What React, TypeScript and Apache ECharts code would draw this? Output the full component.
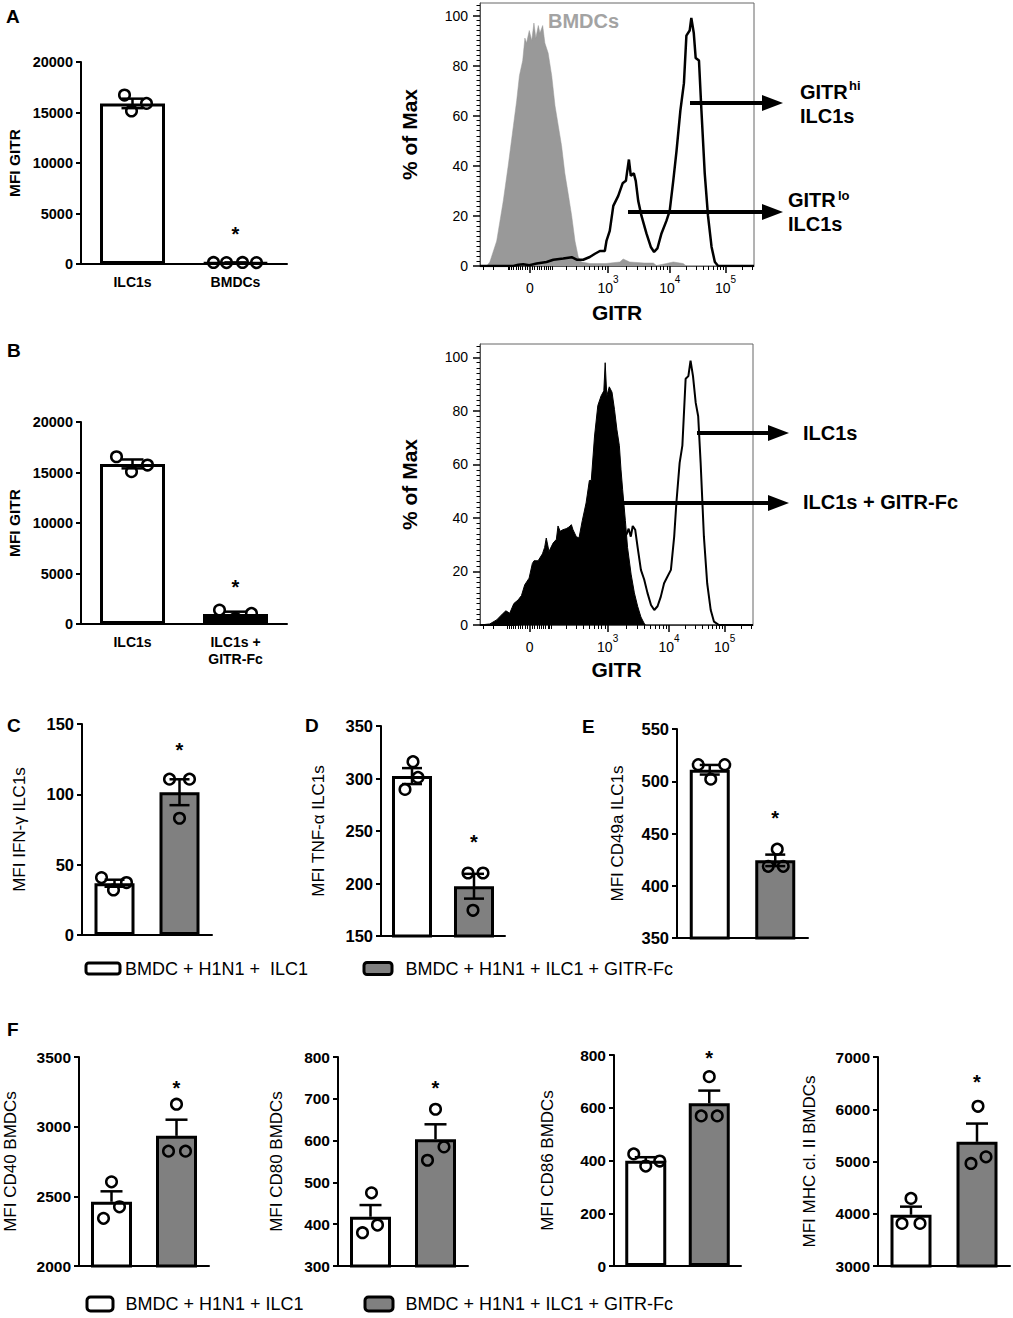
import React, { useEffect, useRef } from "react";
import * as echarts from "echarts";

const FONT = "'Liberation Sans', Arial, Helvetica, sans-serif";

// ---------------- Panel A (bar) ----------------
const catA = ["ILC1s", "BMDCs"];
const meanA = [15900, 130];
const semA = [470, 15];
const ptsA = [[16730, 15150, 15900], [150, 140, 150, 140]];
const starA = 3440;

// ---------------- Panel B (bar) ----------------
const catB = ["ILC1s", "ILC1s +\nGITR-Fc"];
const meanB = [15850, 990];
const semB = [440, 230];
const ptsB = [[16560, 15080, 15740], [1380, 560, 1050]];
const starB = 4160;

// ---------------- Panels C-E ----------------
const legendCE = ["BMDC + H1N1 +  ILC1", "BMDC + H1N1 + ILC1 + GITR-Fc"];
const meanC = [36.8, 101.5];
const semC = [2.5, 9.2];
const ptsC = [[40.8, 32, 37.3], [110.8, 110.8, 83]];
const starC = 135;

const meanD = [302.3, 197.4];
const semD = [7.6, 11.8];
const ptsD = [[316, 301, 289.6], [210, 210, 174.5]];
const starD = 244;

const meanE = [511, 424.3];
const semE = [4.6, 5.5];
const ptsE = [[515.9, 515.9, 502], [435, 418.6, 418.6]];
const starE = 469.6;

// ---------------- Panel F ----------------
const legendF = ["BMDC + H1N1 + ILC1", "BMDC + H1N1 + ILC1 + GITR-Fc"];
const meanF1 = [2461, 2934];
const semF1 = [75, 116];
const ptsF1 = [[2604, 2425, 2342], [3161, 2824, 2824]];
const starF1 = 3313;

const meanF2 = [417.8, 603];
const semF2 = [28, 36];
const ptsF2 = [[475, 398, 379.6], [675, 585, 553]];
const starF2 = 738;

const meanF3 = [399.5, 617];
const semF3 = [13, 48];
const ptsF3 = [[425, 398, 379], [718, 569, 569]];
const starF3 = 809;

const meanF4 = [3981, 5376];
const semF4 = [155, 350];
const ptsF4 = [[4293, 3815, 3815], [6057, 5089, 4962]];
const starF4 = 6618;

// ---------------- Histograms (x = display channel 0..1001, y = % of max) ----------------
const histA_BMDC: number[][] = [
  [0, 0], [24, 0], [36, 1.6], [61, 10], [85, 26], [103, 40], [122, 56], [134, 66], [144, 76], [156, 82],
  [164, 91], [170, 89], [180, 94], [189, 90], [197, 97], [204, 91], [213, 96], [219, 93], [229, 96],
  [237, 89], [249, 85], [262, 76], [274, 64], [286, 56], [298, 48], [310, 37], [322, 29], [335, 20],
  [347, 10], [359, 3.6], [371, 1.6], [401, 1], [460, 1], [511, 1.6], [523, 2.8], [547, 1.6], [600, 1.2],
  [633, 1.2], [645, 0.2], [681, 1], [706, 1.6], [742, 1], [754, 0], [1001, 0],
];
const histA_ILC1: number[][] = [
  [0, 0], [122, 0], [140, 0.5], [158, 0.7], [180, 0.3], [207, 1], [243, 1.6], [268, 2.5], [304, 3],
  [335, 3.5], [353, 2.5], [377, 2.5], [401, 3.6], [420, 4.9], [438, 6], [456, 6], [462, 10], [474, 14],
  [487, 24], [505, 28], [521, 33], [533, 34], [538, 38], [544, 42.5], [551, 36], [562, 37], [569, 34],
  [578, 26], [590, 20], [608, 13], [624, 7.6], [636, 5.6], [648, 7], [663, 13], [681, 18], [693, 22],
  [706, 34], [718, 46], [732, 62], [745, 73], [754, 92], [766, 94], [772, 99], [781, 93], [788, 83],
  [800, 82], [809, 62], [821, 37], [833, 20], [846, 7.6], [858, 1.6], [870, 0], [1001, 0],
];
const histB_ILC1: number[][] = [
  [0, 0], [122, 0], [207, 1], [304, 3], [401, 3.6], [456, 6], [474, 14], [505, 28], [529, 33], [538, 34],
  [545, 36], [553, 33], [560, 37], [569, 35.6], [578, 29], [590, 20.6], [602, 17], [614, 12], [627, 7.5],
  [639, 5.6], [651, 7], [663, 10.6], [675, 15.6], [687, 18], [700, 20.6], [712, 33], [720, 45.6],
  [732, 60.6], [742, 67], [754, 92], [764, 93], [772, 98.75], [781, 93], [791, 83], [800, 78], [809, 60.6],
  [821, 33], [833, 15.6], [846, 5.6], [858, 1.25], [876, 0], [1001, 0],
];
const histB_Fc: number[][] = [
  [0, 0], [36, 0.4], [61, 1.9], [85, 4.4], [95, 5.3], [109, 4.4], [124, 8], [140, 9.4], [152, 11],
  [164, 15], [180, 17.5], [192, 23], [198, 24], [213, 24], [229, 26.6], [237, 29], [243, 32.5],
  [253, 27.5], [268, 30.6], [280, 32], [286, 37], [294, 35], [304, 35.6], [316, 36], [326, 36.6],
  [335, 37.5], [341, 35.6], [353, 33], [363, 32.5], [375, 39], [389, 45.6], [401, 54], [408, 54],
  [420, 70.6], [432, 82], [444, 85.6], [454, 87.5], [459, 98], [465, 85.6], [474, 89], [484, 87],
  [493, 80.6], [502, 73], [511, 67], [517, 58], [523, 50.6], [533, 39], [541, 29], [554, 19], [566, 12],
  [578, 7], [590, 3], [602, 0.6], [608, 0], [1001, 0],
];

// histogram axis ticks
const histMajorGITR = [0, 1e3, 1e4, 1e5];
const histMajorCh = [182, 468, 693, 897];
const histXTickLabels = ["{b|0}", "{b|10}{s|3}", "{b|10}{s|4}", "{b|10}{s|5}"];
const histYTicks = [0, 20, 40, 60, 80, 100];

// ---------------- layout helpers ----------------
function gitrToCh(v: number): number {
  const c = 110;
  const a = Math.abs(v);
  if (a <= 1000) {
    const r = Math.asinh(a / c) / Math.asinh(1000 / c);
    return histMajorCh[0] + Math.sign(v) * r * (histMajorCh[1] - histMajorCh[0]);
  }
  const lg = Math.log10(a);
  if (lg <= 4) return histMajorCh[1] + (lg - 3) * (histMajorCh[2] - histMajorCh[1]);
  return histMajorCh[2] + (lg - 4) * (histMajorCh[3] - histMajorCh[2]);
}
function minorTicks(): number[] {
  const out: number[] = [];
  for (const d of [10, 100, 1000, 10000, 100000]) {
    for (let m = 1; m <= 9; m++) {
      const v = m * d;
      if (histMajorGITR.indexOf(v) >= 0) continue;
      for (const s of [1, -1]) {
        const ch = gitrToCh(s * v);
        if (ch >= 0 && ch <= 1001) out.push(ch);
      }
    }
  }
  return out;
}

const jitA = [[-8, -1, 14], [-22, -9, 7, 21]];
const jitB = [[-16, -1, 15], [-16, 0, 16]];
const jitC = [[-13, -1, 12], [-10, 10, 0]];
const jitD = [[1, 6, -7], [-6, 9, -1]];
const jitE = [[-11.5, 15, 1], [2, -7, 8]];
const jitF1 = [[0, 8, -8], [0, -8, 9]];
const jitF2 = [[1, 7, -8], [0, 8.5, -8]];
const jitF3 = [[-12, 14, 0], [0, -8, 8]];
const jitF4 = [[0, -9, 9], [1, 9, -6]];

type BarPanel = {
  grid: number[]; cats: string[]; means: number[]; sems: number[]; pts: number[][]; jit: number[][];
  star: number; y: number[]; yName: string; nameGap: number; nameSize: number; nameWeight: string;
  tickSize: number; colors: string[]; names: string[]; barWidth: number; capHalf: number; both: boolean;
  xLabels: boolean;
};

const barPanels: BarPanel[] = [
  { grid: [81, 62, 206, 202], cats: catA, means: meanA, sems: semA, pts: ptsA, jit: jitA, star: starA,
    y: [0, 20000, 5000], yName: "MFI GITR", nameGap: 59, nameSize: 15.5, nameWeight: "bold", tickSize: 14.5,
    colors: ["#ffffff", "#ffffff"], names: ["A ILC1s", "A BMDCs"], barWidth: 65, capHalf: 11, both: true, xLabels: true },
  { grid: [81, 422, 206, 202], cats: catB, means: meanB, sems: semB, pts: ptsB, jit: jitB, star: starB,
    y: [0, 20000, 5000], yName: "MFI GITR", nameGap: 59, nameSize: 15.5, nameWeight: "bold", tickSize: 14.5,
    colors: ["#ffffff", "#000000"], names: ["B ILC1s", "B ILC1s + GITR-Fc"], barWidth: 65, capHalf: 11, both: true, xLabels: true },
  { grid: [82, 724, 130, 211], cats: legendCE, means: meanC, sems: semC, pts: ptsC, jit: jitC, star: starC,
    y: [0, 150, 50], yName: "MFI IFN-γ ILC1s", nameGap: 54, nameSize: 17, nameWeight: "normal", tickSize: 16.5,
    colors: ["#ffffff", "#808080"], names: legendCE, barWidth: 40, capHalf: 10, both: true, xLabels: false },
  { grid: [381, 726, 124, 210], cats: legendCE, means: meanD, sems: semD, pts: ptsD, jit: jitD, star: starD,
    y: [150, 350, 50], yName: "MFI TNF-α ILC1s", nameGap: 54, nameSize: 17, nameWeight: "normal", tickSize: 16.5,
    colors: ["#ffffff", "#808080"], names: legendCE, barWidth: 40, capHalf: 10, both: true, xLabels: false },
  { grid: [677, 729, 131, 209], cats: legendCE, means: meanE, sems: semE, pts: ptsE, jit: jitE, star: starE,
    y: [350, 550, 50], yName: "MFI CD49a ILC1s", nameGap: 51, nameSize: 17, nameWeight: "normal", tickSize: 16.5,
    colors: ["#ffffff", "#808080"], names: legendCE, barWidth: 40, capHalf: 10, both: true, xLabels: false },
  { grid: [79, 1057, 130, 209], cats: legendF, means: meanF1, sems: semF1, pts: ptsF1, jit: jitF1, star: starF1,
    y: [2000, 3500, 500], yName: "MFI CD40 BMDCs", nameGap: 60, nameSize: 17, nameWeight: "normal", tickSize: 15.5,
    colors: ["#ffffff", "#808080"], names: legendF, barWidth: 41, capHalf: 11, both: false, xLabels: false },
  { grid: [338, 1057, 130, 209], cats: legendF, means: meanF2, sems: semF2, pts: ptsF2, jit: jitF2, star: starF2,
    y: [300, 800, 100], yName: "MFI CD80 BMDCs", nameGap: 53, nameSize: 17, nameWeight: "normal", tickSize: 15.5,
    colors: ["#ffffff", "#808080"], names: legendF, barWidth: 41, capHalf: 11, both: false, xLabels: false },
  { grid: [614, 1055, 127, 211], cats: legendF, means: meanF3, sems: semF3, pts: ptsF3, jit: jitF3, star: starF3,
    y: [0, 800, 200], yName: "MFI CD86 BMDCs", nameGap: 58, nameSize: 17, nameWeight: "normal", tickSize: 15.5,
    colors: ["#ffffff", "#808080"], names: legendF, barWidth: 41, capHalf: 11, both: false, xLabels: false },
  { grid: [878, 1057, 132, 209], cats: legendF, means: meanF4, sems: semF4, pts: ptsF4, jit: jitF4, star: starF4,
    y: [3000, 7000, 1000], yName: "MFI MHC cl. II BMDCs", nameGap: 60, nameSize: 17, nameWeight: "normal", tickSize: 15.5,
    colors: ["#ffffff", "#808080"], names: legendF, barWidth: 41, capHalf: 11, both: false, xLabels: false },
];

type HistPanel = { grid: number[]; nameGapX: number; layers: { data: number[][]; kind: string }[] };
const histPanels: HistPanel[] = [
  { grid: [480, 3, 274, 263], nameGapX: 36,
    layers: [{ data: histA_BMDC, kind: "grayFill" }, { data: histA_ILC1, kind: "line" }] },
  { grid: [480, 344, 273, 281], nameGapX: 34,
    layers: [{ data: histB_ILC1, kind: "line2" }, { data: histB_Fc, kind: "blackFill" }] },
];

function buildOption() {
  const grid: any[] = [];
  const xAxis: any[] = [];
  const yAxis: any[] = [];
  const series: any[] = [];

  barPanels.forEach((p) => {
    const gi = grid.length;
    grid.push({ left: p.grid[0], top: p.grid[1], width: p.grid[2], height: p.grid[3], containLabel: false });
    const xi = xAxis.length;
    xAxis.push({
      gridIndex: gi, type: "category", data: p.cats,
      axisLine: { lineStyle: { color: "#000", width: 2 } },
      axisTick: { show: false },
      axisLabel: { show: p.xLabels, interval: 0, color: "#000", fontWeight: "bold", fontSize: 14,
        fontFamily: FONT, margin: 9, lineHeight: 17 },
      splitLine: { show: false },
    });
    const yi = yAxis.length;
    yAxis.push({
      gridIndex: gi, type: "value", min: p.y[0], max: p.y[1], interval: p.y[2],
      axisLine: { show: true, lineStyle: { color: "#000", width: 2 } },
      axisTick: { show: true, length: 5, lineStyle: { color: "#000", width: 2 } },
      axisLabel: { color: "#000", fontWeight: "bold", fontSize: p.tickSize, fontFamily: FONT, margin: 8,
        formatter: (v: number) => String(v) },
      splitLine: { show: false },
      name: p.yName, nameLocation: "middle", nameGap: p.nameGap, nameRotate: 90,
      nameTextStyle: { color: "#000", fontSize: p.nameSize, fontWeight: p.nameWeight, fontFamily: FONT },
    });
    p.cats.forEach((_, i) => {
      series.push({
        type: "bar", name: p.names[i], xAxisIndex: xi, yAxisIndex: yi,
        data: p.means.map((m, j) => (j === i ? m : "-")),
        barWidth: p.barWidth, barGap: "-100%",
        itemStyle: { color: p.colors[i], borderColor: "#000", borderWidth: 3 },
        z: 2,
      });
    });
    const both = p.both;
    const capHalf = p.capHalf;
    series.push({
      type: "custom", xAxisIndex: xi, yAxisIndex: yi, z: 3,
      data: p.means.map((m, i) => [i, m, p.sems[i]]),
      renderItem: (_params: any, api: any) => {
        const x = api.value(0);
        const m = api.value(1);
        const s = api.value(2);
        const top = api.coord([x, m + s]);
        const bot = api.coord([x, both ? m - s : m]);
        const st = { stroke: "#000", lineWidth: 2.5 };
        const children: any[] = [
          { type: "line", shape: { x1: top[0], y1: top[1], x2: bot[0], y2: bot[1] }, style: st },
          { type: "line", shape: { x1: top[0] - capHalf, y1: top[1], x2: top[0] + capHalf, y2: top[1] }, style: st },
        ];
        if (both) {
          children.push({ type: "line", shape: { x1: bot[0] - capHalf, y1: bot[1], x2: bot[0] + capHalf, y2: bot[1] }, style: st });
        }
        return { type: "group", children };
      },
    });
    const pd: number[][] = [];
    p.pts.forEach((arr, i) => arr.forEach((v, k) => pd.push([i, v, p.jit[i][k]])));
    series.push({
      type: "custom", xAxisIndex: xi, yAxisIndex: yi, z: 4,
      data: pd,
      renderItem: (_params: any, api: any) => {
        const c = api.coord([api.value(0), api.value(1)]);
        return {
          type: "circle",
          shape: { cx: c[0] + api.value(2), cy: c[1], r: 5.3 },
          style: { fill: "none", stroke: "#000", lineWidth: 2.5 },
        };
      },
    });
    series.push({
      type: "custom", xAxisIndex: xi, yAxisIndex: yi, z: 5,
      data: [[1, p.star]],
      renderItem: (_params: any, api: any) => {
        const c = api.coord([api.value(0), api.value(1)]);
        return {
          type: "text", x: c[0], y: c[1] + 5,
          style: { text: "*", fill: "#000", fontSize: 20, fontWeight: "bold", fontFamily: FONT,
            align: "center", verticalAlign: "middle" },
        };
      },
    });
  });

  const minorCh = minorTicks();
  const yMinor: number[] = [];
  for (let v = 2; v <= 104; v += 2) if (v % 20 !== 0) yMinor.push(v);

  histPanels.forEach((h) => {
    const gi = grid.length;
    grid.push({ left: h.grid[0], top: h.grid[1], width: h.grid[2], height: h.grid[3], show: true,
      borderColor: "#666", borderWidth: 1, backgroundColor: "transparent" });
    const xi = xAxis.length;
    xAxis.push({
      gridIndex: gi, type: "value", min: 0, max: 1001, position: "bottom",
      axisLine: { show: true, lineStyle: { color: "#555", width: 1 } },
      axisTick: { show: true, customValues: histMajorCh, length: 7, lineStyle: { color: "#000", width: 1.5 } },
      axisLabel: {
        show: true, customValues: histMajorCh, margin: 8, color: "#000", fontFamily: FONT,
        formatter: (v: number) => {
          const i = histMajorCh.findIndex((c) => Math.abs(c - v) < 0.5);
          return i >= 0 ? histXTickLabels[i] : "";
        },
        rich: {
          b: { fontSize: 14, fontFamily: FONT, color: "#000", lineHeight: 21, verticalAlign: "bottom" },
          s: { fontSize: 10, fontFamily: FONT, color: "#000", lineHeight: 21, verticalAlign: "top" },
        },
      },
      splitLine: { show: false },
      name: "GITR", nameLocation: "middle", nameGap: h.nameGapX,
      nameTextStyle: { color: "#000", fontSize: 21, fontWeight: "bold", fontFamily: FONT },
    });
    xAxis.push({
      gridIndex: gi, type: "value", min: 0, max: 1001, position: "bottom",
      axisLine: { show: false },
      axisTick: { show: true, customValues: minorCh, length: 4, lineStyle: { color: "#000", width: 1 } },
      axisLabel: { show: false },
      splitLine: { show: false },
    });
    const yi = yAxis.length;
    yAxis.push({
      gridIndex: gi, type: "value", min: 0, max: 105, position: "left",
      axisLine: { show: true, lineStyle: { color: "#555", width: 1 } },
      axisTick: { show: true, customValues: histYTicks, length: 7, lineStyle: { color: "#000", width: 1.5 } },
      axisLabel: { show: true, customValues: histYTicks, color: "#000", fontSize: 14, fontFamily: FONT, margin: 12 },
      splitLine: { show: false },
      name: "% of Max", nameLocation: "middle", nameGap: 60, nameRotate: 90,
      nameTextStyle: { color: "#000", fontSize: 21, fontWeight: "bold", fontFamily: FONT },
    });
    yAxis.push({
      gridIndex: gi, type: "value", min: 0, max: 105, position: "left",
      axisLine: { show: false },
      axisTick: { show: true, customValues: yMinor, length: 3.5, lineStyle: { color: "#000", width: 1 } },
      axisLabel: { show: false },
      splitLine: { show: false },
    });
    h.layers.forEach((l, li) => {
      const base: any = { type: "line", xAxisIndex: xi, yAxisIndex: yi, data: l.data, symbol: "none",
        showSymbol: false, z: 2 + li, smooth: false };
      if (l.kind === "grayFill") {
        base.lineStyle = { color: "#999", width: 0.5 };
        base.areaStyle = { color: "#999", opacity: 1 };
      } else if (l.kind === "blackFill") {
        base.lineStyle = { color: "#000", width: 1 };
        base.areaStyle = { color: "#000", opacity: 1 };
      } else if (l.kind === "line") {
        base.lineStyle = { color: "#000", width: 2.5 };
      } else {
        base.lineStyle = { color: "#000", width: 2 };
      }
      series.push(base);
    });
  });

  const txt = (text: string, x: number, y: number, size: number, extra: any = {}) => ({
    type: "text", x, y, z: 100,
    style: { text, fill: "#000", fontSize: size, fontWeight: "bold", fontFamily: FONT,
      align: "left", verticalAlign: "middle", ...extra },
  });
  const arrow = (x1: number, x2: number, y: number) => [
    { type: "line", z: 100, shape: { x1, y1: y, x2: x2 - 18, y2: y }, style: { stroke: "#000", lineWidth: 4 } },
    { type: "polygon", z: 100, shape: { points: [[x2 - 21, y - 8], [x2, y], [x2 - 21, y + 8]] }, style: { fill: "#000" } },
  ];

  const graphic: any[] = [
    txt("A", 6, 16.5, 19),
    txt("B", 7, 350, 19),
    txt("C", 7, 725, 19),
    txt("D", 305, 725, 19),
    txt("E", 582, 726, 19),
    txt("F", 7, 1029.5, 19),
    txt("BMDCs", 548, 21, 20, { fill: "#a3a3a3" }),
    ...arrow(690, 783, 103),
    ...arrow(628, 783, 212),
    txt("GITR", 800, 92, 20),
    txt("hi", 849, 85, 13),
    txt("ILC1s", 800, 116, 20),
    txt("GITR", 788, 200, 20),
    txt("lo", 838, 195, 13),
    txt("ILC1s", 788, 224, 20),
    ...arrow(697, 789, 433),
    ...arrow(623, 789, 503),
    txt("ILC1s", 803, 433, 20),
    txt("ILC1s + GITR-Fc", 803, 502, 20),
  ];

  const legBase = {
    orient: "horizontal", padding: 0, selectedMode: false, icon: "roundRect",
    itemStyle: { borderColor: "#000", borderWidth: 3 },
  };
  const legText = (pad: number) => ({ color: "#000", fontSize: 18, fontFamily: FONT, padding: [0, 0, 0, pad] });
  const legend = [
    { ...legBase, data: [legendCE[0]], left: 84.5, top: 959.5, itemWidth: 34, itemHeight: 11, textStyle: legText(0) },
    { ...legBase, data: [legendCE[1]], left: 362.5, top: 959.5, itemWidth: 28, itemHeight: 12, textStyle: legText(8.5) },
    { ...legBase, data: [legendF[0]], left: 85.5, top: 1295, itemWidth: 26, itemHeight: 14, textStyle: legText(7.5) },
    { ...legBase, data: [legendF[1]], left: 363.5, top: 1295, itemWidth: 28, itemHeight: 14, textStyle: legText(7.5) },
  ];

  return {
    animation: false,
    backgroundColor: "#ffffff",
    textStyle: { fontFamily: FONT },
    grid, xAxis, yAxis, series, legend,
    graphic: { elements: graphic },
  };
}

export default function App() {
  const ref = useRef<HTMLDivElement | null>(null);
  useEffect(() => {
    if (!ref.current) return;
    const chart = echarts.init(ref.current, null, { renderer: "svg", width: 1013, height: 1318 });
    chart.setOption(buildOption() as any);
    return () => chart.dispose();
  }, []);
  return (
    <div
      ref={ref}
      style={{ position: "absolute", left: 0, top: 0, width: 1013, height: 1318, background: "#fff" }}
    />
  );
}
